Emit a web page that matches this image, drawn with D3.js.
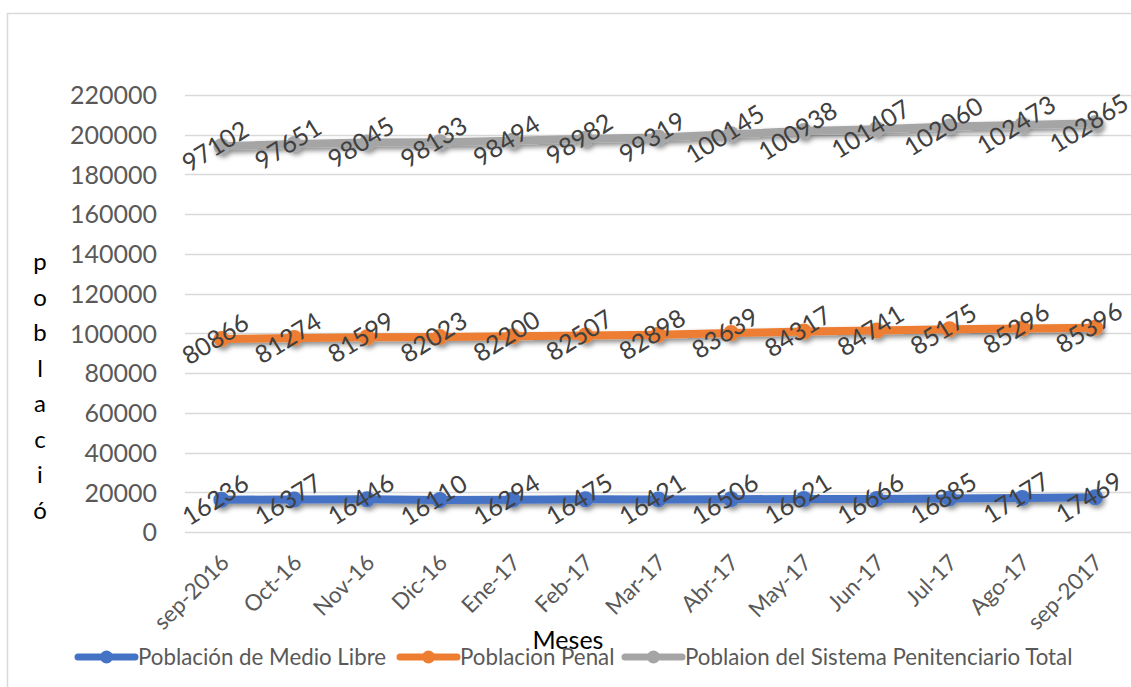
<!DOCTYPE html>
<html><head><meta charset="utf-8">
<script src="https://cdn.jsdelivr.net/npm/d3@7/dist/d3.min.js"></script>
<style>
html,body{margin:0;padding:0;background:#fff;}
svg{display:block;font-family:Lato,"Noto Sans",sans-serif;}
</style></head>
<body>
<svg id="chart" width="1131" height="687"></svg>
<script>
const months = ["sep-2016","Oct-16","Nov-16","Dic-16","Ene-17","Feb-17","Mar-17","Abr-17","May-17","Jun-17","Jul-17","Ago-17","sep-2017"];
const medioLibre = [16236,16377,16446,16110,16294,16475,16421,16506,16621,16666,16885,17177,17469];
const penal = [80866,81274,81599,82023,82200,82507,82898,83639,84317,84741,85175,85296,85396];
const total = [97102,97651,98045,98133,98494,98982,99319,100145,100938,101407,102060,102473,102865];
const yTicks = [0,20000,40000,60000,80000,100000,120000,140000,160000,180000,200000,220000];
const seriesNames = ["Población de Medio Libre","Poblacion Penal","Poblaion del Sistema Penitenciario Total"];
const seriesColors = ["#4472c4","#ed7d31","#a5a5a5"];
const yTitleLetters = ["p","o","b","l","a","c","i","ó"];

const svg = d3.select("#chart");
const defs = svg.append("defs");
const f = defs.append("filter").attr("id","sh").attr("x","-20%").attr("y","-50%").attr("width","140%").attr("height","200%");
f.append("feDropShadow").attr("dx",2).attr("dy",3).attr("stdDeviation",2.8).attr("flood-color","#000").attr("flood-opacity",0.45);

// outer border
svg.append("rect").attr("x",7.5).attr("y",13.5).attr("width",1200).attr("height",800)
  .attr("fill","none").attr("stroke","#d9d9d9").attr("stroke-width",1.5);

const plotL = 185, plotR = 1131.5, plotTop = 95, plotBot = 532;
const x = d3.scaleBand().domain(months).range([plotL, plotR]);
const y = d3.scaleLinear().domain([0,220000]).range([plotBot, plotTop]);
const cx = m => x(m) + x.bandwidth()/2;

// gridlines
svg.append("g").selectAll("line").data(yTicks).join("line")
  .attr("x1",plotL).attr("x2",1131).attr("y1",d=>Math.round(y(d))+0.5).attr("y2",d=>Math.round(y(d))+0.5)
  .attr("stroke","#d9d9d9").attr("stroke-width",1.3);

// y axis
const yAxis = d3.axisLeft(y).tickValues(yTicks).tickSize(0).tickPadding(0).tickFormat(d3.format("d"));
const ya = svg.append("g").attr("transform","translate(157,0)").call(yAxis);
ya.select(".domain").remove();
ya.selectAll("text").attr("font-size",25).attr("fill","#595959").attr("font-family","Lato").attr("dy","0.35em");

// x axis labels
const xAxis = d3.axisBottom(x).tickSize(0).tickPadding(0);
const xa = svg.append("g").call(xAxis);
xa.select(".domain").remove();
xa.selectAll(".tick").attr("transform",d=>`translate(${cx(d)+9},564)`);
xa.selectAll("text").attr("font-size",22.5).attr("fill","#595959").attr("font-family","Lato")
  .attr("text-anchor","end").attr("y",0).attr("dy",0).attr("transform","rotate(-45)");

// stacked data
const table = months.map((m,i)=>({month:m, a:medioLibre[i], b:penal[i], c:total[i]}));
const stack = d3.stack().keys(["a","b","c"])(table);
const raw = [medioLibre, penal, total];

const line = d3.line().x((d,i)=>cx(months[i])).y(d=>y(d[1]));

stack.forEach((s,k)=>{
  const g = svg.append("g").attr("filter","url(#sh)");
  g.append("path").datum(s).attr("d",line).attr("fill","none")
    .attr("stroke",seriesColors[k]).attr("stroke-width",8).attr("stroke-linecap","round").attr("stroke-linejoin","round");
  g.selectAll("circle").data(s).join("circle")
    .attr("cx",(d,i)=>cx(months[i])).attr("cy",d=>y(d[1])).attr("r",8)
    .attr("fill",seriesColors[k]);
});
// data labels
stack.forEach((s,k)=>{
  svg.append("g").selectAll("text").data(s).join("text")
    .attr("transform",(d,i)=>`translate(${cx(months[i])-6},${y(d[1])}) rotate(-32)`)
    .attr("text-anchor","middle").attr("dy","0.35em")
    .attr("font-size",25).attr("fill","#404040").attr("font-family","Lato")
    .text((d,i)=>raw[k][i]);
});

// y title
svg.append("g").selectAll("text").data(yTitleLetters).join("text")
  .attr("x",40).attr("y",(d,i)=>262+i*35.5).attr("dy","0.35em").attr("text-anchor","middle")
  .attr("font-size",24).attr("fill","#000").text(d=>d);

// x title
svg.append("text").attr("x",568).attr("y",640).attr("dy","0.35em").attr("text-anchor","middle")
  .attr("font-size",25).attr("fill","#000").text("Meses");

// legend
const legX = [78, 400, 625];
const lg = svg.append("g");
seriesNames.forEach((n,k)=>{
  const gx = legX[k], gy = 657;
  lg.append("line").attr("x1",gx).attr("x2",gx+57).attr("y1",gy).attr("y2",gy)
    .attr("stroke",seriesColors[k]).attr("stroke-width",7).attr("stroke-linecap","round");
  lg.append("circle").attr("cx",gx+28.5).attr("cy",gy).attr("r",6.5).attr("fill",seriesColors[k]);
  lg.append("text").attr("x",gx+60).attr("y",gy).attr("dy","0.35em").attr("font-size",22.3)
    .attr("fill","#595959").text(n);
});
</script>
</body></html>
